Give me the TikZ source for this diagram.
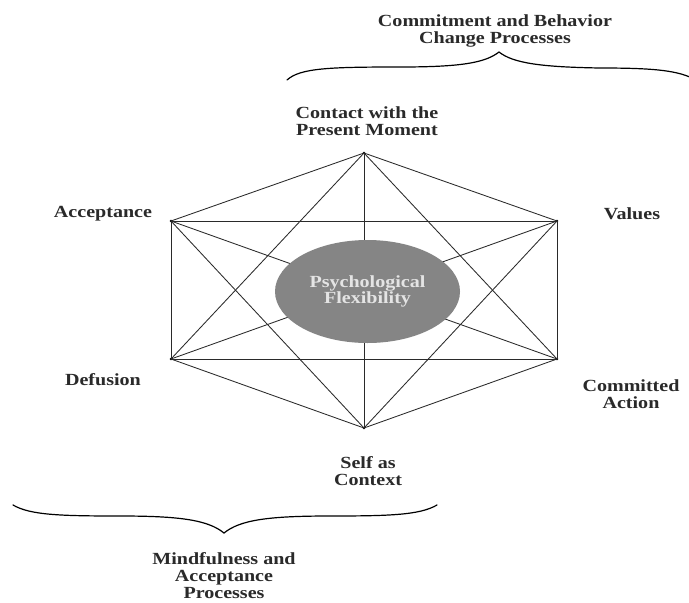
\documentclass[tikz,border=0pt]{standalone}
\usepackage{fontspec}
\setmainfont{Liberation Serif}[FakeStretch=1.18]
\usetikzlibrary{shapes.geometric}
\definecolor{ink}{HTML}{2A2A2A}
\definecolor{ellfill}{HTML}{858585}
\definecolor{elltext}{HTML}{E4E4E4}
\begin{document}
\begin{tikzpicture}[x=1pt,y=-1pt,
  lbl/.style={font=\fontsize{17}{17}\selectfont\bfseries, text=ink, align=center, inner sep=0pt},
  edge/.style={draw=ink, line width=0.85pt},
  vtx/.style={circle, fill=black, inner sep=0pt, minimum size=2.8pt},
  brace/.style={draw=black, line width=1.2pt, line cap=round},
  core/.style={ellipse, fill=ellfill, minimum width=185pt, minimum height=103pt, inner sep=0pt,
    text=elltext, align=center, font=\fontsize{17}{15}\selectfont\bfseries}]
\clip (0,0) rectangle (689,603);
\fill[white] (0,0) rectangle (689,603);
% vertices
\node[vtx] (T)  at (364,153) {};
\node[vtx] (UL) at (171,221) {};
\node[vtx] (UR) at (557,221) {};
\node[vtx] (LL) at (171,359) {};
\node[vtx] (LR) at (557,359) {};
\node[vtx] (B)  at (364,428) {};
% complete graph
\foreach \a/\b in {T/UL,T/UR,T/LL,T/LR,T/B,UL/UR,UL/LL,UL/LR,UL/B,UR/LL,UR/LR,UR/B,LL/LR,LL/B,LR/B}
  \draw[edge] (\a.center) -- (\b.center);
% centre
\node[core] (PF) at (367.5,291.5) {Psychological\\Flexibility};
% labels
\node[lbl] (cpm) at (367,121) {Contact with the\\Present Moment};
\node[lbl] (acc) at (103,214) {Acceptance};
\node[lbl] (val) at (632,214) {Values};
\node[lbl] (def) at (103,380) {Defusion};
\node[lbl] (com) at (631,394) {Committed\\Action};
\node[lbl] (sac) at (368,471) {Self as\\Context};
\node[lbl] (cbc) at (495,31) {Commitment and Behavior\\Change Processes};
\node[lbl] (map) at (224,576) {Mindfulness and\\Acceptance\\Processes};
% top brace
\coordinate (tb1) at (287,80);
\coordinate (tbt) at (499,52);
\coordinate (tb2) at (692,78);
\draw[brace] (tb1) .. controls (300,68) and (330,67) .. (400,67)
  .. controls (460,67) and (485,63) .. (tbt)
  .. controls (513,63) and (540,67) .. (600,68)
  .. controls (650,68) and (675,70) .. (tb2);
% bottom brace
\coordinate (bb1) at (13,505);
\coordinate (bbt) at (224,533);
\coordinate (bb2) at (437,505);
\draw[brace] (bb1) .. controls (30,515) and (60,516) .. (120,516)
  .. controls (180,516) and (208,520) .. (bbt)
  .. controls (240,520) and (268,516) .. (330,516)
  .. controls (390,516) and (420,515) .. (bb2);
\end{tikzpicture}
\end{document}
